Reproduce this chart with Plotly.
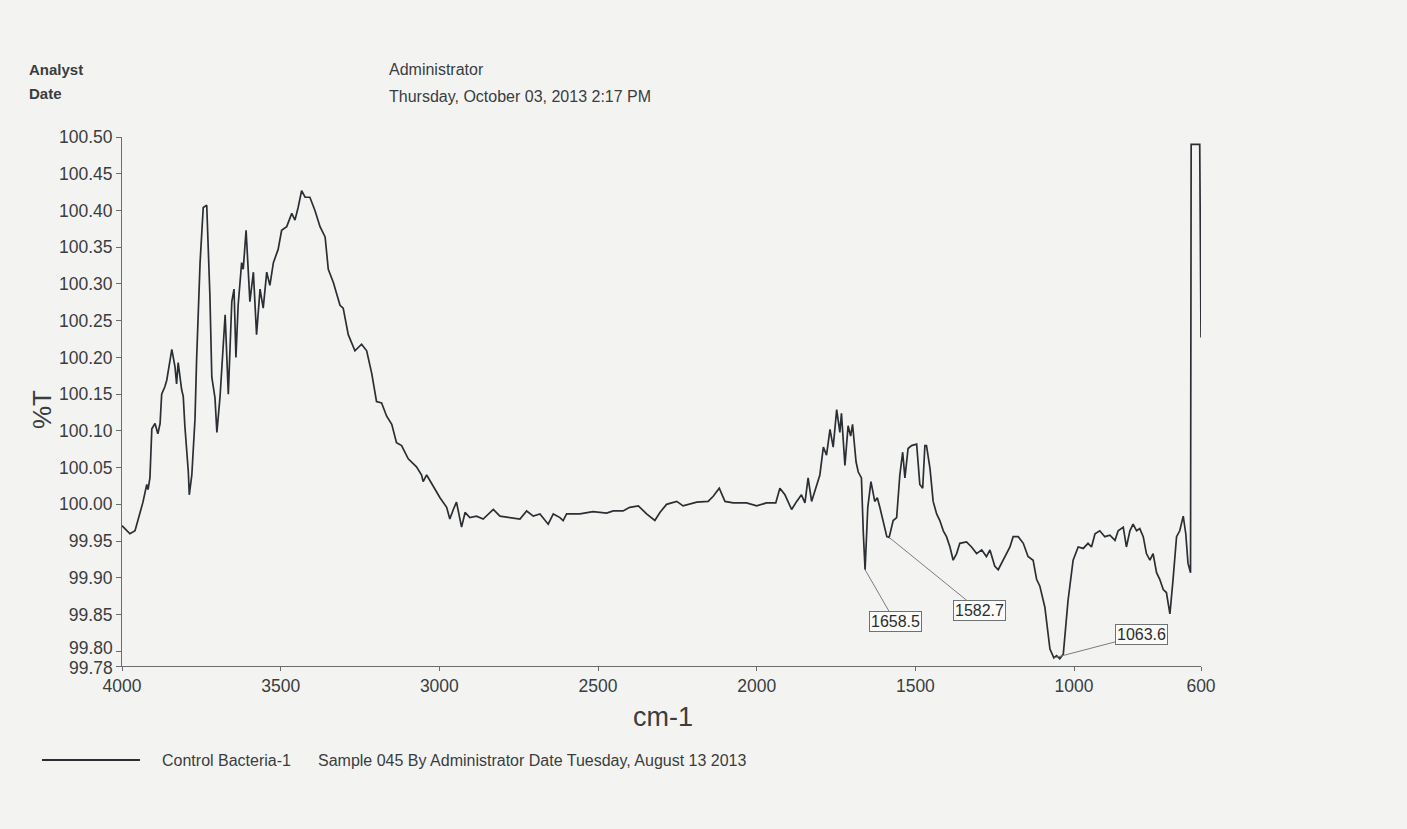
import plotly.graph_objects as go

# FTIR transmittance spectrum, Control Bacteria-1
wavenumber = [
    4000, 3975, 3959, 3938, 3934, 3922, 3918, 3912, 3906, 3896, 3887, 3880, 3875, 3865,
    3859, 3843, 3833, 3828, 3823, 3812, 3807, 3802, 3791, 3788, 3780, 3770, 3765, 3754,
    3744, 3733, 3723, 3717, 3707, 3701, 3691, 3675, 3665, 3654, 3647, 3641, 3634, 3623,
    3618, 3609, 3602, 3597, 3586, 3576, 3565, 3555, 3544, 3534, 3523, 3508, 3497, 3481,
    3465, 3455, 3445, 3434, 3423, 3408, 3392, 3376, 3360, 3350, 3334, 3313, 3303, 3287,
    3266, 3245, 3229, 3213, 3198, 3182, 3166, 3150, 3135, 3119, 3098, 3072, 3056, 3051,
    3040, 3019, 2998, 2977, 2967, 2956, 2946, 2930, 2919, 2904, 2883, 2862, 2830, 2809,
    2767, 2746, 2725, 2704, 2683, 2657, 2641, 2620, 2610, 2599, 2557, 2516, 2473, 2452,
    2421, 2400, 2373, 2347, 2321, 2305, 2284, 2252, 2232, 2189, 2153, 2137, 2118, 2100,
    2074, 2032, 2000, 1969, 1940, 1927, 1911, 1890, 1874, 1859, 1848, 1838, 1827, 1817,
    1801, 1790, 1780, 1769, 1759, 1748, 1738, 1733, 1722, 1712, 1704, 1698, 1687, 1680,
    1670, 1664, 1658.5, 1650, 1640, 1628, 1620, 1612, 1601, 1590, 1582.7, 1570, 1559,
    1549, 1540, 1533, 1523, 1512, 1496, 1486, 1477, 1470, 1465, 1454, 1444, 1433, 1423,
    1412, 1402, 1391, 1381, 1370, 1360, 1339, 1323, 1307, 1291, 1276, 1265, 1250, 1239,
    1223, 1202, 1192, 1176, 1160, 1145, 1129, 1118, 1108, 1092, 1076, 1063.6, 1055, 1045,
    1034, 1019, 1003, 987, 971, 956, 945, 934, 919, 903, 887, 871, 861, 845, 835, 824,
    814, 803, 793, 782, 772, 761, 751, 740, 730, 719, 709, 698, 688, 677, 667, 656, 648,
    641, 633, 631, 619, 612, 604, 600,
]

transmittance = [
    99.971, 99.960, 99.964, 99.998, 100.003, 100.027, 100.020, 100.036, 100.103, 100.110,
    100.096, 100.110, 100.150, 100.160, 100.169, 100.211, 100.187, 100.164, 100.193,
    100.156, 100.147, 100.107, 100.044, 100.013, 100.040, 100.116, 100.196, 100.329,
    100.404, 100.407, 100.284, 100.173, 100.145, 100.098, 100.147, 100.258, 100.150,
    100.276, 100.293, 100.200, 100.271, 100.329, 100.320, 100.373, 100.316, 100.276,
    100.316, 100.231, 100.293, 100.267, 100.316, 100.298, 100.329, 100.347, 100.373,
    100.378, 100.396, 100.387, 100.404, 100.427, 100.418, 100.418, 100.400, 100.378,
    100.364, 100.320, 100.302, 100.271, 100.267, 100.231, 100.209, 100.218, 100.209,
    100.178, 100.140, 100.138, 100.120, 100.109, 100.084, 100.080, 100.062, 100.051,
    100.040, 100.031, 100.040, 100.024, 100.009, 99.996, 99.980, 99.993, 100.003, 99.969,
    99.989, 99.982, 99.984, 99.980, 99.993, 99.984, 99.982, 99.980, 99.991, 99.984,
    99.987, 99.973, 99.987, 99.982, 99.978, 99.987, 99.987, 99.990, 99.988, 99.991,
    99.991, 99.996, 99.998, 99.987, 99.978, 99.989, 100.000, 100.004, 99.998, 100.003,
    100.004, 100.011, 100.022, 100.004, 100.002, 100.002, 99.998, 100.002, 100.002,
    100.022, 100.013, 99.993, 100.004, 100.013, 100.002, 100.036, 100.004, 100.018,
    100.040, 100.078, 100.067, 100.102, 100.078, 100.129, 100.098, 100.124, 100.053,
    100.107, 100.093, 100.109, 100.058, 100.044, 100.036, 99.960, 99.911, 99.996,
    100.031, 100.004, 100.009, 99.996, 99.978, 99.956, 99.955, 99.978, 99.982, 100.040,
    100.071, 100.036, 100.076, 100.080, 100.082, 100.027, 100.022, 100.080, 100.080,
    100.049, 100.004, 99.987, 99.978, 99.964, 99.956, 99.942, 99.924, 99.933, 99.947,
    99.949, 99.942, 99.933, 99.938, 99.929, 99.938, 99.916, 99.911, 99.924, 99.942,
    99.956, 99.956, 99.947, 99.929, 99.924, 99.898, 99.889, 99.860, 99.803, 99.791,
    99.794, 99.790, 99.796, 99.869, 99.924, 99.942, 99.940, 99.947, 99.942, 99.960,
    99.964, 99.956, 99.958, 99.951, 99.964, 99.969, 99.942, 99.964, 99.973, 99.964,
    99.967, 99.956, 99.933, 99.924, 99.933, 99.907, 99.898, 99.884, 99.880, 99.851,
    99.898, 99.956, 99.964, 99.984, 99.960, 99.920, 99.907, 100.490, 100.490, 100.490,
    100.490, 100.227,
]

peak_labels = [1658.5, 1582.7, 1063.6]

y_ticks = [99.78, 99.80, 99.85, 99.90, 99.95, 100.00, 100.05, 100.10, 100.15, 100.20,
           100.25, 100.30, 100.35, 100.40, 100.45, 100.50]
x_ticks = [4000, 3500, 3000, 2500, 2000, 1500, 1000, 600]

FONT = "Liberation Sans, Arial, sans-serif"
INK = "#2b2f33"
AXIS = "#6a6d70"
TEXT = "#3a3d40"
TICK_SIZE = 17.5

fig = go.Figure()
fig.add_trace(go.Scatter(
    x=wavenumber, y=transmittance, mode="lines", name="Control Bacteria-1",
    line=dict(color=INK, width=1.7), showlegend=False,
))

# peak callouts: label boxes joined to the band by thin leaders
label_offsets = {1658.5: (30, 52), 1582.7: (90, 73), 1063.6: (88, -23)}
for wn in peak_labels:
    t = transmittance[wavenumber.index(wn)]
    dx, dy = label_offsets[wn]
    fig.add_annotation(
        x=wn, y=t, xref="x", yref="y", text=f"{wn:.1f}",
        showarrow=True, arrowhead=0, arrowwidth=1, arrowcolor="#7a7d80",
        ax=dx, ay=dy, bgcolor="#fbfbfa", bordercolor="#6f7274", borderwidth=1,
        borderpad=1, font=dict(family=FONT, size=16, color="#2a2d30"),
    )

# the two lowest y labels sit closer than the rest, so they are nudged apart
crowded = {99.80: 3, 99.78: -2}
for v, shift in crowded.items():
    fig.add_annotation(text=f"{v:.2f}", x=0, y=v, xref="paper", yref="y",
                       xanchor="right", yanchor="middle", xshift=-7, yshift=shift,
                       showarrow=False,
                       font=dict(family=FONT, size=TICK_SIZE, color=TEXT))
y_ticktext = ["" if v in crowded else f"{v:.2f}" for v in y_ticks]

# header block
header = [
    ("<b>Analyst</b>", -0.088, 1.127, 15),
    ("<b>Date</b>", -0.088, 1.083, 15),
    ("Administrator", 0.2456, 1.128, 16),
    ("Thursday, October 03, 2013 2:17 PM", 0.2456, 1.076, 16),
]
for txt, px, py, sz in header:
    fig.add_annotation(text=txt, x=px, y=py, xref="paper", yref="paper",
                       xanchor="left", yanchor="middle", showarrow=False,
                       font=dict(family=FONT, size=sz, color=TEXT))

# axis titles
fig.add_annotation(text="cm-1", x=0.5014, y=-0.0964, xref="paper", yref="paper",
                   xanchor="center", yanchor="middle", showarrow=False,
                   font=dict(family=FONT, size=27, color=TEXT))
fig.add_annotation(text="%T", x=-0.0741, y=0.484, xref="paper", yref="paper",
                   xanchor="center", yanchor="middle", showarrow=False, textangle=-90,
                   font=dict(family=FONT, size=26, color=TEXT))

# legend row beneath the plot
fig.add_shape(type="line", xref="paper", yref="paper", x0=-0.0741, x1=0.0167,
              y0=-0.1777, y1=-0.1777, line=dict(color=INK, width=2))
fig.add_annotation(text="Control Bacteria-1", x=0.0352, y=-0.1777, xref="paper",
                   yref="paper", xanchor="left", yanchor="middle", showarrow=False,
                   font=dict(family=FONT, size=16, color=TEXT))
fig.add_annotation(text="Sample 045 By Administrator Date Tuesday, August 13 2013",
                   x=0.1798, y=-0.1777, xref="paper", yref="paper", xanchor="left",
                   yanchor="middle", showarrow=False,
                   font=dict(family=FONT, size=16, color=TEXT))

fig.update_layout(
    width=1407, height=829,
    margin=dict(l=122, r=206, t=137, b=163),
    paper_bgcolor="#f3f4f2", plot_bgcolor="#f3f4f2",
    font=dict(family=FONT, color=TEXT),
    xaxis=dict(range=[4000, 600], tickvals=x_ticks, ticks="outside", ticklen=4,
               tickcolor=AXIS, showline=True, linecolor=AXIS, linewidth=1,
               showgrid=False, zeroline=False, tickfont=dict(size=TICK_SIZE)),
    yaxis=dict(range=[99.78, 100.50], tickvals=y_ticks, ticktext=y_ticktext,
               ticks="outside", ticklen=5,
               tickcolor=AXIS, showline=True, linecolor=AXIS, linewidth=1,
               showgrid=False, zeroline=False, tickfont=dict(size=TICK_SIZE)),
)

fig.write_html("out.html")
